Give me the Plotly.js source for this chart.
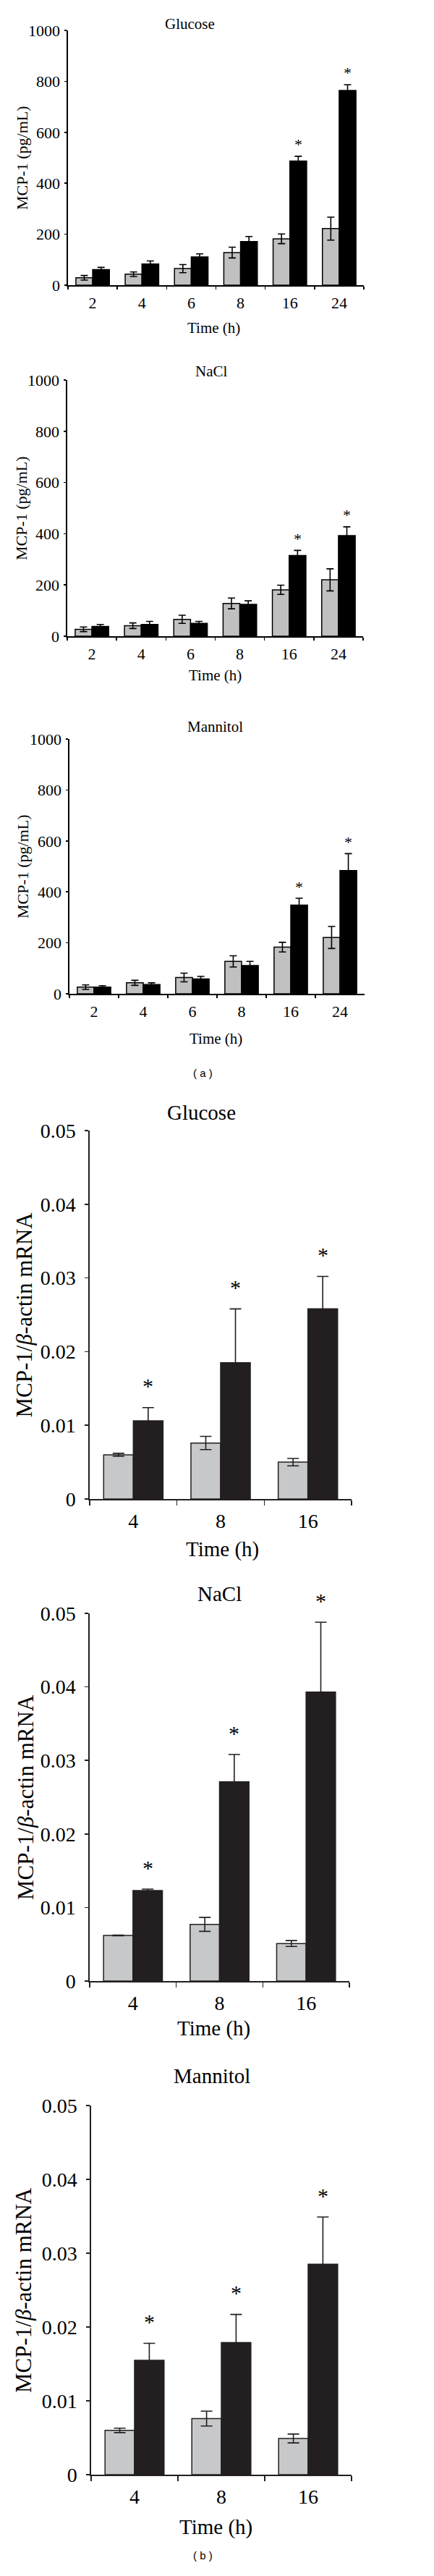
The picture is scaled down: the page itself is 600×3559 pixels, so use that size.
<!DOCTYPE html>
<html>
<head>
<meta charset="utf-8">
<script src="https://cdn.plot.ly/plotly-3.0.1.min.js"></script>
<style>
  html, body { margin: 0; padding: 0; background: #fff; }
  #chart { width: 600px; height: 3559px; }
</style>
</head>
<body>
<div id="chart"></div>
<script>
// ---- data: (a) MCP-1 protein (pg/mL) ----
const hoursA = ['2', '4', '6', '8', '16', '24'];

const glucoseCtrlA = [29, 43, 65, 128, 182, 222];
const glucoseCtrlErrA = [9, 9, 16, 21, 19, 45];
const glucoseHighA = [61, 83, 111, 171, 487, 764];
const glucoseHighErrA = [9, 12, 12, 20, 19, 23];

const naclCtrlA = [27, 41, 66, 128, 181, 220];
const naclCtrlErrA = [9, 11, 16, 21, 18, 43];
const naclHighA = [38, 46, 50, 124, 315, 393];
const naclHighErrA = [8, 12, 8, 14, 20, 34];

const mannitolCtrlA = [26, 43, 64, 127, 183, 221];
const mannitolCtrlErrA = [9, 10, 17, 22, 19, 43];
const mannitolHighA = [26, 36, 58, 111, 348, 484];
const mannitolHighErrA = [6, 7, 10, 16, 27, 66];

const sigA = [false, false, false, false, true, true];

// ---- data: (b) MCP-1 / beta-actin mRNA ----
const hoursB = ['4', '8', '16'];

const glucoseCtrlB = [0.0060, 0.0076, 0.0050];
const glucoseCtrlErrB = [0.0002, 0.0009, 0.0005];
const glucoseHighB = [0.0106, 0.0185, 0.0258];
const glucoseHighErrB = [0.0018, 0.0073, 0.0044];

const naclCtrlB = [0.0062, 0.0077, 0.0051];
const naclCtrlErrB = [0.00005, 0.00095, 0.0004];
const naclHighB = [0.0123, 0.0271, 0.0393];
const naclHighErrB = [0.0002, 0.0037, 0.0095];

const mannitolCtrlB = [0.0060, 0.0076, 0.0049];
const mannitolCtrlErrB = [0.0003, 0.0010, 0.0006];
const mannitolHighB = [0.0155, 0.0179, 0.0285];
const mannitolHighErrB = [0.0023, 0.0038, 0.0064];

const sigB = [true, true, true];

// ---- page geometry ----
const W = 600, H = 3559;
const SERIF = '"Liberation Serif", "Times New Roman", serif';
const BARGAP = 0.32;
const px = x => x / W;
const py = y => 1 - y / H;

// pixel boxes of each plot area plus where its texts sit
const panels = [
  { name: 'Glucose', cats: hoursA, ctrl: glucoseCtrlA, ctrlErr: glucoseCtrlErrA, high: glucoseHighA, highErr: glucoseHighErrA, sig: sigA,
    x0: 94, x1: 503, yt: 42, yb: 394, tx: 262, ty: 33, xt: 295, xty: 453, yl: 30, kind: 'a' },
  { name: 'NaCl', cats: hoursA, ctrl: naclCtrlA, ctrlErr: naclCtrlErrA, high: naclHighA, highErr: naclHighErrA, sig: sigA,
    x0: 93, x1: 502, yt: 525, yb: 879, tx: 292, ty: 513, xt: 297, xty: 933, yl: 30, kind: 'a' },
  { name: 'Mannitol', cats: hoursA, ctrl: mannitolCtrlA, ctrlErr: mannitolCtrlErrA, high: mannitolHighA, highErr: mannitolHighErrA, sig: sigA,
    x0: 96, x1: 504, yt: 1021, yb: 1373, tx: 297, ty: 1004, xt: 298, xty: 1435, yl: 31, kind: 'a' },
  { name: 'Glucose', cats: hoursB, ctrl: glucoseCtrlB, ctrlErr: glucoseCtrlErrB, high: glucoseHighB, highErr: glucoseHighErrB, sig: sigB,
    x0: 124, x1: 486, yt: 1562, yb: 2071, tx: 278, ty: 1537, xt: 307, xty: 2140, yl: 33, kind: 'b' },
  { name: 'NaCl', cats: hoursB, ctrl: naclCtrlB, ctrlErr: naclCtrlErrB, high: naclHighB, highErr: naclHighErrB, sig: sigB,
    x0: 124, x1: 483, yt: 2229, yb: 2737, tx: 303, ty: 2202, xt: 295, xty: 2802, yl: 35, kind: 'b' },
  { name: 'Mannitol', cats: hoursB, ctrl: mannitolCtrlB, ctrlErr: mannitolCtrlErrB, high: mannitolHighB, highErr: mannitolHighErrB, sig: sigB,
    x0: 126, x1: 486, yt: 2909, yb: 3419, tx: 293, ty: 2868, xt: 298, xty: 3491, yl: 32, kind: 'b' }
];

const styles = {
  a: { gray: '#c0c0c0', dark: '#000000', line: '#000000', ink: '#000000', cap: 5, tick: 22, title: 21, ylab: 22,
       ymax: 1000, dtick: 200, ylen: 3, xlen: 4, yStand: 2, xStand: 4, starSize: 22, starShift: 16,
       ytext: 'MCP-1 (pg/mL)' },
  b: { gray: '#c7c8ca', dark: '#231f20', line: '#231f20', ink: '#000000', cap: 8, tick: 28, title: 29, ylab: 31,
       ymax: 0.05, dtick: 0.01, ylen: 5, xlen: 7, yStand: 7, xStand: 5, starSize: 30, starShift: 30,
       ytext: 'MCP-1/<i>β</i>-actin mRNA' }
};

const traces = [];
const layout = {
  width: W, height: H,
  margin: { l: 0, r: 0, t: 0, b: 0 },
  paper_bgcolor: '#ffffff',
  plot_bgcolor: 'rgba(0,0,0,0)',
  barmode: 'group',
  bargap: BARGAP,
  bargroupgap: 0,
  showlegend: false,
  font: { family: SERIF, color: '#000' },
  annotations: []
};

panels.forEach((p, i) => {
  const n = i + 1;
  const xa = n === 1 ? 'x' : 'x' + n;
  const ya = n === 1 ? 'y' : 'y' + n;
  const s = styles[p.kind];

  traces.push({
    type: 'bar', x: p.cats, y: p.ctrl, xaxis: xa, yaxis: ya,
    marker: { color: s.gray, line: { color: s.line, width: 1.5 } },
    error_y: { type: 'data', array: p.ctrlErr, visible: true, color: s.line, thickness: 1.6, width: s.cap },
    hoverinfo: 'skip'
  });
  traces.push({
    type: 'bar', x: p.cats, y: p.high, xaxis: xa, yaxis: ya,
    marker: { color: s.dark, line: { color: s.line, width: 1.5 } },
    error_y: { type: 'data', array: p.highErr, visible: true, color: s.line, thickness: 1.6, width: s.cap },
    hoverinfo: 'skip'
  });

  layout[n === 1 ? 'xaxis' : 'xaxis' + n] = {
    domain: [px(p.x0), px(p.x1)], anchor: ya,
    type: 'category', categoryarray: p.cats, categoryorder: 'array',
    range: [-0.5, p.cats.length - 0.5], autorange: false,
    tickson: 'boundaries',
    ticks: 'outside', ticklen: s.xlen, tickwidth: 1.5, tickcolor: s.line,
    ticklabelstandoff: s.xStand, tickangle: 0,
    showline: true, linecolor: s.line, linewidth: 1.6,
    showgrid: false, zeroline: false, fixedrange: true,
    tickfont: { family: SERIF, size: s.tick, color: s.ink }
  };
  layout[n === 1 ? 'yaxis' : 'yaxis' + n] = {
    domain: [py(p.yb), py(p.yt)], anchor: xa,
    range: [0, s.ymax], autorange: false, tick0: 0, dtick: s.dtick,
    ticks: 'outside', ticklen: s.ylen, tickwidth: 1.5, tickcolor: s.line,
    ticklabelstandoff: s.yStand,
    showline: true, linecolor: s.line, linewidth: 1.6,
    showgrid: false, zeroline: false, fixedrange: true,
    tickfont: { family: SERIF, size: s.tick, color: s.ink }
  };

  // panel title, axis titles
  layout.annotations.push(
    { text: p.name, xref: 'paper', yref: 'paper', x: px(p.tx), y: py(p.ty), xanchor: 'center', yanchor: 'middle',
      showarrow: false, font: { family: SERIF, size: s.title, color: s.ink } },
    { text: 'Time (h)', xref: 'paper', yref: 'paper', x: px(p.xt), y: py(p.xty), xanchor: 'center', yanchor: 'middle',
      showarrow: false, font: { family: SERIF, size: s.title, color: s.ink } },
    { text: s.ytext, xref: 'paper', yref: 'paper', x: px(p.yl), y: py((p.yt + p.yb) / 2), xanchor: 'center', yanchor: 'middle',
      textangle: -90, showarrow: false, font: { family: SERIF, size: s.ylab, color: s.ink } }
  );

  // asterisks over the dark bars (x given as category index)
  const catW = (p.x1 - p.x0) / p.cats.length;
  const barW = catW * (1 - BARGAP) / 2;
  p.sig.forEach((on, k) => {
    if (!on) return;
    layout.annotations.push({
      text: '*', xref: xa, yref: ya, x: k, y: p.high[k] + p.highErr[k],
      xshift: barW / 2, yshift: s.starShift, xanchor: 'center', yanchor: 'middle',
      showarrow: false, font: { family: SERIF, size: s.starSize, color: s.ink }
    });
  });
});

// sub-figure letters
layout.annotations.push(
  { text: '( a )', xref: 'paper', yref: 'paper', x: px(280), y: py(1482), showarrow: false,
    font: { family: '"Liberation Sans", Arial, sans-serif', size: 15, color: '#000' } },
  { text: '( b )', xref: 'paper', yref: 'paper', x: px(280), y: py(3541), showarrow: false,
    font: { family: '"Liberation Sans", Arial, sans-serif', size: 15, color: '#000' } }
);

Plotly.newPlot('chart', traces, layout, { staticPlot: true, displayModeBar: false });
</script>
</body>
</html>
